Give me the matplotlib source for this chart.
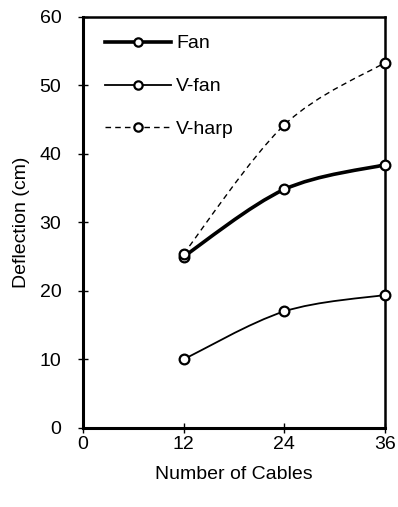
import numpy as np
import matplotlib.pyplot as plt
from matplotlib.path import Path
from matplotlib.patches import PathPatch
from matplotlib.lines import Line2D

plt.rcParams['font.family'] = ['Liberation Sans', 'DejaVu Sans']

cables = [12, 24, 36]
fan = [25.0, 34.8, 38.4]
v_fan = [10.0, 17.0, 19.4]
v_harp = [25.4, 44.2, 53.3]


def smooth_path(xs, ys):
    # Excel-style smoothed line: Catmull-Rom segments as cubic Beziers
    pts = np.column_stack([xs, ys]).astype(float)
    verts = [pts[0]]
    codes = [Path.MOVETO]
    n = len(pts)
    for i in range(n - 1):
        p0 = pts[max(i - 1, 0)]
        p1 = pts[i]
        p2 = pts[i + 1]
        p3 = pts[min(i + 2, n - 1)]
        c1 = p1 + (p2 - p0) / 6.0
        c2 = p2 - (p3 - p1) / 6.0
        verts += [c1, c2, p2]
        codes += [Path.CURVE4] * 3
    return Path(verts, codes)


fig = plt.figure(figsize=(3.98, 5.07), dpi=100)
ax = fig.add_axes([0.2085, 0.156, 0.7585, 0.811])

styles = [
    (fan, 'Fan', dict(lw=2.6, ls='-')),
    (v_fan, 'V-fan', dict(lw=1.3, ls='-')),
    (v_harp, 'V-harp', dict(lw=1.0, ls=(0, (4, 3)))),
]
handles = []
for vals, name, st in styles:
    ax.add_patch(PathPatch(smooth_path(cables, vals), fill=False,
                           edgecolor='black', lw=st['lw'], ls=st['ls'],
                           zorder=2, clip_on=False))
    ax.plot(cables, vals, 'o', ms=7, mfc='white', mec='black', mew=1.6,
            zorder=3, clip_on=False)
    handles.append(Line2D([], [], color='black', lw=st['lw'], ls=st['ls'],
                          marker='o', ms=6, mfc='white', mec='black',
                          mew=1.6, label=name))

ax.set_xlim(0, 36)
ax.set_ylim(0, 60)
ax.set_xticks([0, 12, 24, 36])
ax.set_yticks(range(0, 61, 10))
ax.tick_params(direction='inout', length=7, width=1, labelsize=14)
ax.tick_params(axis='x', pad=2)
ax.tick_params(axis='y', pad=12)
for side in ['left', 'bottom']:
    ax.spines[side].set_linewidth(2.2)
for side in ['top', 'right']:
    ax.spines[side].set_linewidth(1.8)

ax.set_xlabel('Number of Cables', fontsize=14, labelpad=10)
ax.set_ylabel('Deflection (cm)', fontsize=14, labelpad=7)

ax.legend(handles=handles, loc='upper left', bbox_to_anchor=(0.073, 0.956),
          frameon=False, fontsize=14, labelspacing=1.3, borderpad=0,
          borderaxespad=0, handlelength=3.4, handletextpad=0.25)

fig.savefig('out.png', dpi=100)
